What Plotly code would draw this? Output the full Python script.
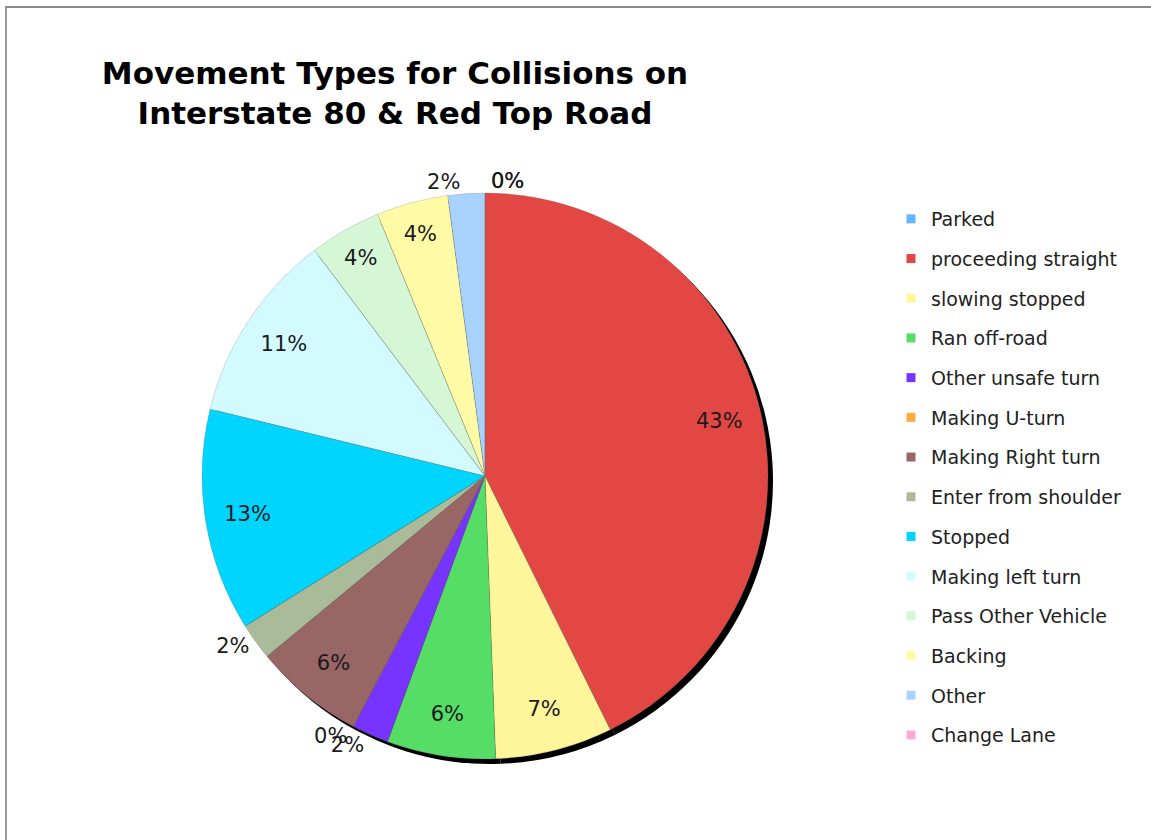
import plotly.graph_objects as go

labels = ["Parked", "proceeding straight", "slowing stopped", "Ran off-road",
          "Other unsafe turn", "Making U-turn", "Making Right turn",
          "Enter from shoulder", "Stopped", "Making left turn",
          "Pass Other Vehicle", "Backing", "Other", "Change Lane"]
values = [0, 42.7, 6.7, 6.2, 2.1, 0, 6.3, 2.1, 12.7, 10.9, 4.1, 4.1, 2.1, 0]
colors = ["#66B3FF", "#E34744", "#FFF59B", "#55DD66", "#7733FF", "#FFAA44",
          "#996666", "#AABB99", "#00D5FF", "#D2FAFF", "#D5F7D5", "#FFFAA5",
          "#A8D3FF", "#FFAAD5"]
# which label layer carries each slice's percentage
label_layer = ["outA", "in", "in", "in", "outA", "outB", "in", "outA",
               "in", "in", "in", "in", "outA", "outB"]

W, H = 1151, 840
cx, cy, r = 485, 476, 283
dom = dict(x=[(cx - r) / W, (cx + r) / W], y=[1 - (cy + r) / H, 1 - (cy - r) / H])
off = 5
sh_dom = dict(x=[(cx - r + off) / W, (cx + r + off) / W],
              y=[1 - (cy + r + off) / H, 1 - (cy - r + off) / H])

PCT = "%{percent:.0%}"
common = dict(labels=labels, values=values, sort=False, direction="clockwise",
              rotation=0, showlegend=False)
clear = dict(colors=["rgba(0,0,0,0)"] * len(labels), line=dict(width=0))
tfont = dict(color="#1a1a1a", size=21, family="DejaVu Sans")

fig = go.Figure()

# drop shadow
fig.add_trace(go.Pie(**common, domain=sh_dom, textinfo="none", hoverinfo="skip",
                     marker=dict(colors=["#000000"] * len(labels), line=dict(width=0))))

# coloured pie
fig.add_trace(go.Pie(**common, domain=dom, textinfo="none",
                     marker=dict(colors=colors,
                                 line=dict(width=0.6, color="rgba(110,110,110,0.4)"))))

# inside labels (ring layer pushes them toward the rim) + outside labels group A
fig.add_trace(go.Pie(
    **common, domain=dom, hole=0.7, marker=clear, hoverinfo="skip",
    texttemplate=[PCT if l in ("in", "outA") else "" for l in label_layer],
    textposition=["inside" if l == "in" else "outside" for l in label_layer],
    insidetextorientation="horizontal", textfont=tfont,
))

# outside labels group B (separate so they overlap like the original)
fig.add_trace(go.Pie(
    **common, domain=dom, marker=clear, hoverinfo="skip",
    texttemplate=[PCT if l == "outB" else "" for l in label_layer],
    textposition="outside", textfont=tfont,
))

# legend entries
for lab, col in zip(labels, colors):
    fig.add_trace(go.Scatter(
        x=[None], y=[None], mode="markers", name=lab, legendgroup=lab,
        marker=dict(symbol="square", size=9, color=col),
    ))

fig.update_layout(
    width=W, height=H,
    margin=dict(l=0, r=0, t=0, b=0),
    paper_bgcolor="white", plot_bgcolor="white",
    xaxis=dict(visible=False), yaxis=dict(visible=False),
    title=dict(
        text="Movement Types for Collisions on<br>Interstate 80 & Red Top Road",
        x=395 / W, xanchor="center", y=1 - 84 / H, yanchor="middle",
        font=dict(family="DejaVu Sans", size=31, color="#000000", weight="bold"),
    ),
    legend=dict(
        x=891 / W, xanchor="left", y=1 - 200 / H, yanchor="top",
        font=dict(family="DejaVu Sans", size=19, color="#222222"),
        tracegroupgap=12, bgcolor="rgba(0,0,0,0)",
    ),
    shapes=[
        dict(type="line", xref="paper", yref="paper", x0=5 / W, x1=1, y0=1 - 7 / H, y1=1 - 7 / H,
             line=dict(color="#888888", width=2)),
        dict(type="line", xref="paper", yref="paper", x0=6 / W, x1=6 / W, y0=0, y1=1 - 7 / H,
             line=dict(color="#999999", width=2)),
    ],
)

fig.write_html("out.html", config={"displayModeBar": False},
               post_script="document.body.style.margin='0px';")
